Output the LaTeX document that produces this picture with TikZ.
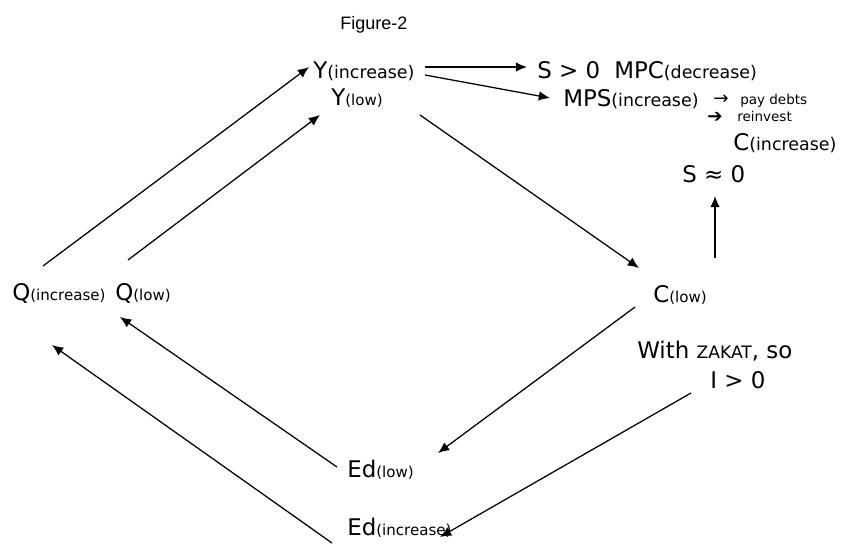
\documentclass[tikz,border=0pt]{standalone}
\usepackage{fontspec}
\setmainfont{DejaVu Sans}
\newfontfamily\figfont{Liberation Sans}
\usetikzlibrary{arrows.meta}
\newcommand{\mainsz}{\fontsize{16.3}{19}\selectfont}
\newcommand{\subsz}{\fontsize{10.7}{13}\selectfont}
\newcommand{\upsz}{\fontsize{12.4}{14}\selectfont}
\newcommand{\notesz}{\fontsize{9.6}{12}\selectfont}
\newcommand{\tipsz}{\fontsize{13}{15}\selectfont}

\begin{document}
\begin{tikzpicture}[x=0.025cm,y=-0.025cm]
	\tikzstyle{every node}=[anchor=base west,inner sep=0pt,font=\mainsz,text=ink]
	\tikzstyle{flow}=[-{Latex[length=2.8mm,width=2.4mm]},line width=0.9pt,draw=ink]
	
	\definecolor{ink}{RGB}{0,0,0}
	%%page frame
	\useasboundingbox (0,0) rectangle (852,546);
	
	\node (fig) [font=\figfont\fontsize{12.8}{15}\selectfont] at (340,29) {Figure-2};
	%%top
	\node (yinc) at (313,78) {Y{\upsz(increase)}};
	\node (ylow) at (331,105) {Y{\subsz(low)}};
	\node (sgt) at (537,78) {S > 0};
	\node (mpc) at (614,78) {MPC{\upsz(decrease)}};
	\node (mps) at (563,106) {MPS{\upsz(increase)}};
	\node (arra) [font=\tipsz] at (713,104) {→};
	\node (debts) [font=\notesz] at (740,104) {pay debts};
	\node (arrb) [font=\tipsz] at (707,122) {➔};
	\node (reinv) [font=\notesz] at (737,121) {reinvest};
	\node (cinc) at (733,150) {C{\upsz(increase)}};
	\node (szero) at (682,182) {S ≈ 0};
	%%right
	\node (clow) at (653,302) {C{\subsz(low)}};
	\node (zakat) at (637,358) {With {\fontsize{12.2}{14}\selectfont ZAKAT}, so};
	\node (igt) at (710,388) {I > 0};
	%%left
	\node (qinc) at (12,300) {Q{\subsz(increase)}};
	\node (qlow) at (115,300) {Q{\subsz(low)}};
	%%bottom
	\node (edlow) at (347,477) {Ed{\subsz(low)}};
	\node (edinc) at (347,535) {Ed{\subsz(increase)}};
	
	\draw [flow] ([shift={(31,-34)}]qinc.base west) -- ([shift={(-4,-11)}]yinc.base west);
	\draw [flow] ([shift={(13,-40)}]qlow.base west) -- ([shift={(-11,10)}]ylow.base west);
	\draw [flow] ([shift={(112,-11)}]yinc.base west) -- ([shift={(-10,-11)}]sgt.base west);
	\draw [flow] ([shift={(112,-3)}]yinc.base west) -- ([shift={(-13,-8)}]mps.base west);
	\draw [flow] ([shift={(89,10)}]ylow.base west) -- ([shift={(-14,-34)}]clow.base west);
	\draw [flow] ([shift={(62,-44)}]clow.base west) -- ([shift={(33,14)}]szero.base west);
	\draw [flow] ([shift={(-18,5)}]clow.base west) -- ([shift={(91,-24)}]edlow.base west);
	\draw [flow] ([shift={(-19,5)}]igt.base west) -- ([shift={(93,2)}]edinc.base west);
	\draw [flow] ([shift={(-10,-10)}]edlow.base west) -- ([shift={(5,17)}]qlow.base west);
	\draw [flow] ([shift={(-15,8)}]edinc.base west) -- ([shift={(40,45)}]qinc.base west);

\end{tikzpicture}
\end{document}
